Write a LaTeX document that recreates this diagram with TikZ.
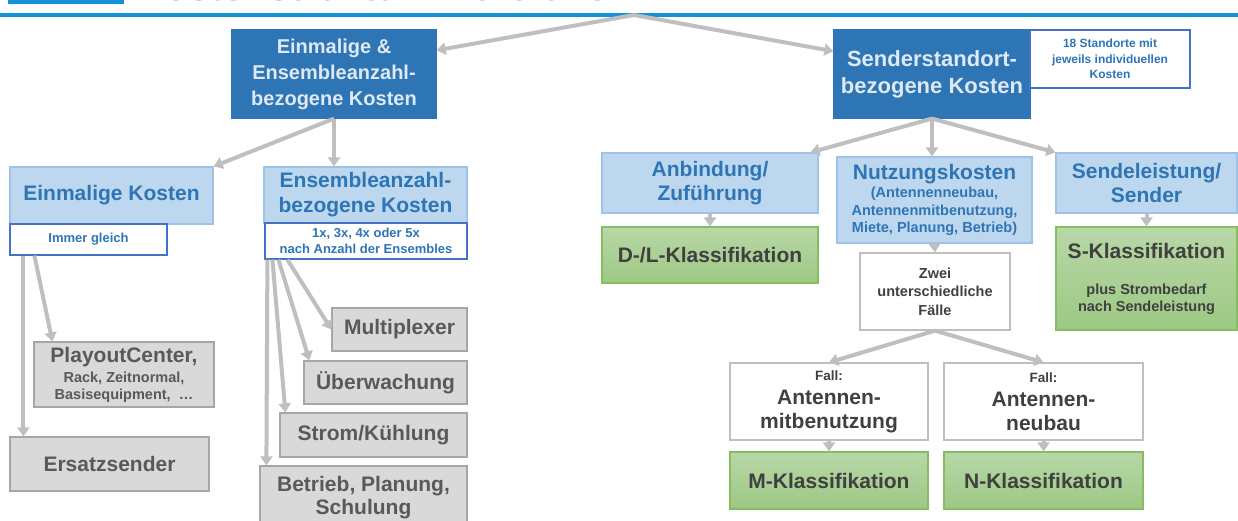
\documentclass[tikz,border=0pt]{standalone}
\usepackage{fontspec}
\setmainfont{Liberation Sans}
\usetikzlibrary{arrows.meta}
\definecolor{titleblue}{RGB}{20,146,216}
\definecolor{darkblue}{RGB}{46,117,182}
\definecolor{paleblue}{RGB}{222,233,245}
\definecolor{lightblue}{RGB}{189,215,238}
\definecolor{lightborder}{RGB}{157,195,230}
\definecolor{noteborder}{RGB}{68,114,196}
\definecolor{grayfill}{RGB}{217,217,217}
\definecolor{grayborder}{RGB}{166,166,166}
\definecolor{graytext}{RGB}{89,89,89}
\definecolor{darktext}{RGB}{64,64,64}
\definecolor{greentop}{RGB}{184,216,168}
\definecolor{greenbot}{RGB}{157,200,131}
\definecolor{greenborder}{RGB}{132,190,96}
\definecolor{arrowgray}{RGB}{191,191,191}
\newcommand{\fs}[2]{\fontsize{#1}{#2}\selectfont}
\begin{document}
\begin{tikzpicture}[x=1pt,y=-1pt]
	\tikzstyle{box}=[draw,align=center,inner sep=0pt,line width=1.2pt]
	\tikzstyle{darkbox}=[box,fill=darkblue,draw=darkblue,text=paleblue]
	\tikzstyle{lightbox}=[box,fill=lightblue,draw=lightborder,text=darkblue]
	\tikzstyle{notebox}=[box,fill=white,draw=noteborder,text=darkblue]
	\tikzstyle{graybox}=[box,fill=grayfill,draw=grayborder,text=graytext]
	\tikzstyle{greenbox}=[box,top color=greentop,bottom color=greenbot,draw=greenborder,text=darktext]
	\tikzstyle{whitebox}=[box,fill=white,draw=arrowgray,text=darktext]
	\tikzstyle{arr}=[draw=arrowgray,line width=4pt,-{Triangle[length=9pt,width=12pt]}]
	\useasboundingbox (0,0) rectangle (1238,520);
	\clip (0,0) rectangle (1238,520);
	% title strip
	\fill[titleblue] (8,-20) rectangle (124,3.5);
	\fill[titleblue] (0,13) rectangle (1238,16.5);
	\node[anchor=base west,inner sep=0pt,text=titleblue,font=\bfseries\fs{39}{44}] (k_t) at (136,0.5) {Kostenstruktur: Bereiche};
	\coordinate (k_0) at (634,15);
	% top level
	\node[darkbox,minimum width=204pt,minimum height=88pt,font=\bfseries\fs{20}{26}] (k_1) at (334,74) {Einmalige \&\\Ensembleanzahl-\\bezogene Kosten};
	\node[darkbox,minimum width=196pt,minimum height=88pt,font=\bfseries\fs{22}{27}] (k_2) at (932,74) {Senderstandort-\\bezogene Kosten};
	\node[notebox,minimum width=160pt,minimum height=58pt,font=\bfseries\fs{12}{15.5}] (k_3) at (1110,59) {18 Standorte mit\\jeweils individuellen\\Kosten};
	% left part
	\node[lightbox,minimum width=203pt,minimum height=57pt,font=\bfseries\fs{21}{25}] (k_4) at (111.5,195.5) {Einmalige Kosten};
	\node[notebox,minimum width=157pt,minimum height=31pt,font=\bfseries\fs{13}{16}] (k_5) at (88.5,239.5) {Immer gleich};
	\node[lightbox,minimum width=203pt,minimum height=56pt,font=\bfseries\fs{21}{25}] (k_6) at (365.5,195) {Ensembleanzahl-\\bezogene Kosten};
	\node[notebox,minimum width=202pt,minimum height=36pt,font=\bfseries\fs{13}{16}] (k_7) at (366,241) {1x, 3x, 4x oder 5x\\nach Anzahl der Ensembles};
	\node[graybox,minimum width=180pt,minimum height=65pt,font=\bfseries\fs{21}{17}] (k_8) at (124,374.5) {PlayoutCenter,\\[3pt]{\fs{14.5}{17}Rack, Zeitnormal,}\\{\fs{14.5}{17}Basisequipment,~~…}};
	\node[graybox,minimum width=199pt,minimum height=54pt,font=\bfseries\fs{21}{25}] (k_9) at (109.5,464) {Ersatzsender};
	\node[graybox,minimum width=135pt,minimum height=43pt,font=\bfseries\fs{21}{25}] (k_10) at (399.5,329.5) {Multiplexer};
	\node[graybox,minimum width=163pt,minimum height=43pt,font=\bfseries\fs{21}{25}] (k_11) at (385.5,382.5) {Überwachung};
	\node[graybox,minimum width=187pt,minimum height=44pt,font=\bfseries\fs{21}{25}] (k_12) at (373.5,435) {Strom/Kühlung};
	\node[graybox,minimum width=207pt,minimum height=64pt,font=\bfseries\fs{21}{23}] (k_13) at (363.5,498) {Betrieb, Planung,\\Schulung};
	% right part
	\node[lightbox,minimum width=216pt,minimum height=60pt,font=\bfseries\fs{21}{24}] (k_14) at (710,183) {Anbindung/\\Zuführung};
	\node[lightbox,minimum width=195pt,minimum height=86pt,font=\bfseries\fs{21}{17.5}] (k_15) at (934.5,200) {Nutzungskosten\\[1pt]{\fs{14.5}{17.5}(Antennenneubau,}\\{\fs{14.5}{17.5}Antennenmitbenutzung,}\\{\fs{14.5}{17.5}Miete, Planung, Betrieb)}};
	\node[lightbox,minimum width=181pt,minimum height=60pt,font=\bfseries\fs{21}{24}] (k_16) at (1146.5,183) {Sendeleistung/\\Sender};
	\node[greenbox,minimum width=216pt,minimum height=56pt,font=\bfseries\fs{21}{25}] (k_17) at (710,255) {D-/L-Klassifikation};
	\node[greenbox,minimum width=181pt,minimum height=103pt,font=\bfseries\fs{21}{16.5}] (k_18) at (1146.5,278.5) {S-Klassifikation\\[20pt]{\fs{14.5}{16.5}plus Strombedarf}\\{\fs{14.5}{16.5}nach Sendeleistung}};
	\node[whitebox,minimum width=150pt,minimum height=77pt,font=\bfseries\fs{14.5}{18.5}] (k_19) at (935,291.5) {Zwei\\unterschiedliche\\Fälle};
	\node[whitebox,minimum width=198pt,minimum height=77pt,font=\bfseries\fs{21}{24}] (k_20) at (829,401.5) {{\fs{13.5}{24}Fall:}\\Antennen-\\mitbenutzung};
	\node[whitebox,minimum width=199pt,minimum height=77pt,font=\bfseries\fs{21}{24}] (k_21) at (1043.5,401.5) {{\fs{13.5}{24}Fall:}\\Antennen-\\neubau};
	\node[greenbox,minimum width=198pt,minimum height=57pt,font=\bfseries\fs{21}{25}] (k_22) at (829,480.5) {M-Klassifikation};
	\node[greenbox,minimum width=199pt,minimum height=57pt,font=\bfseries\fs{21}{25}] (k_23) at (1043.5,480.5) {N-Klassifikation};
	% arrows
	\draw[arr] (k_0) -- (k_1.13);
	\draw[arr] (k_0) -- (k_2.167);
	\draw[arr] (k_1.south) -- (k_4.north east);
	\draw[arr] (k_1.south) -- (k_1.south |- k_6.north);
	\draw[arr] ([xshift=14pt]k_5.south west) -- ([xshift=14pt]k_9.north west);
	\draw[arr] ([xshift=25pt]k_5.south west) -- ([xshift=19pt]k_8.north west);
	\draw[arr] ([xshift=3pt]k_7.south west) -- ([xshift=7pt]k_13.north west);
	\draw[arr] ([xshift=8pt]k_7.south west) -- ([xshift=6pt]k_12.north west);
	\draw[arr] ([xshift=14pt]k_7.south west) -- ([xshift=6pt]k_11.north west);
	\draw[arr] ([xshift=23pt]k_7.south west) -- (k_10.west);
	\draw[arr] (k_2.south) -- ([xshift=-8pt]k_14.north east);
	\draw[arr] (k_2.south) -- (k_2.south |- k_15.north);
	\draw[arr] (k_2.south) -- (k_16.north west);
	\draw[arr] (k_14.south) -- (k_17.north);
	\draw[arr] (k_15.south) -- (k_19.north);
	\draw[arr] (k_16.south) -- (k_18.north);
	\draw[arr] (k_19.south) -- (k_20.north);
	\draw[arr] (k_19.south) -- (k_21.north);
	\draw[arr] (k_20.south) -- (k_22.north);
	\draw[arr] (k_21.south) -- (k_23.north);
\end{tikzpicture}
\end{document}
